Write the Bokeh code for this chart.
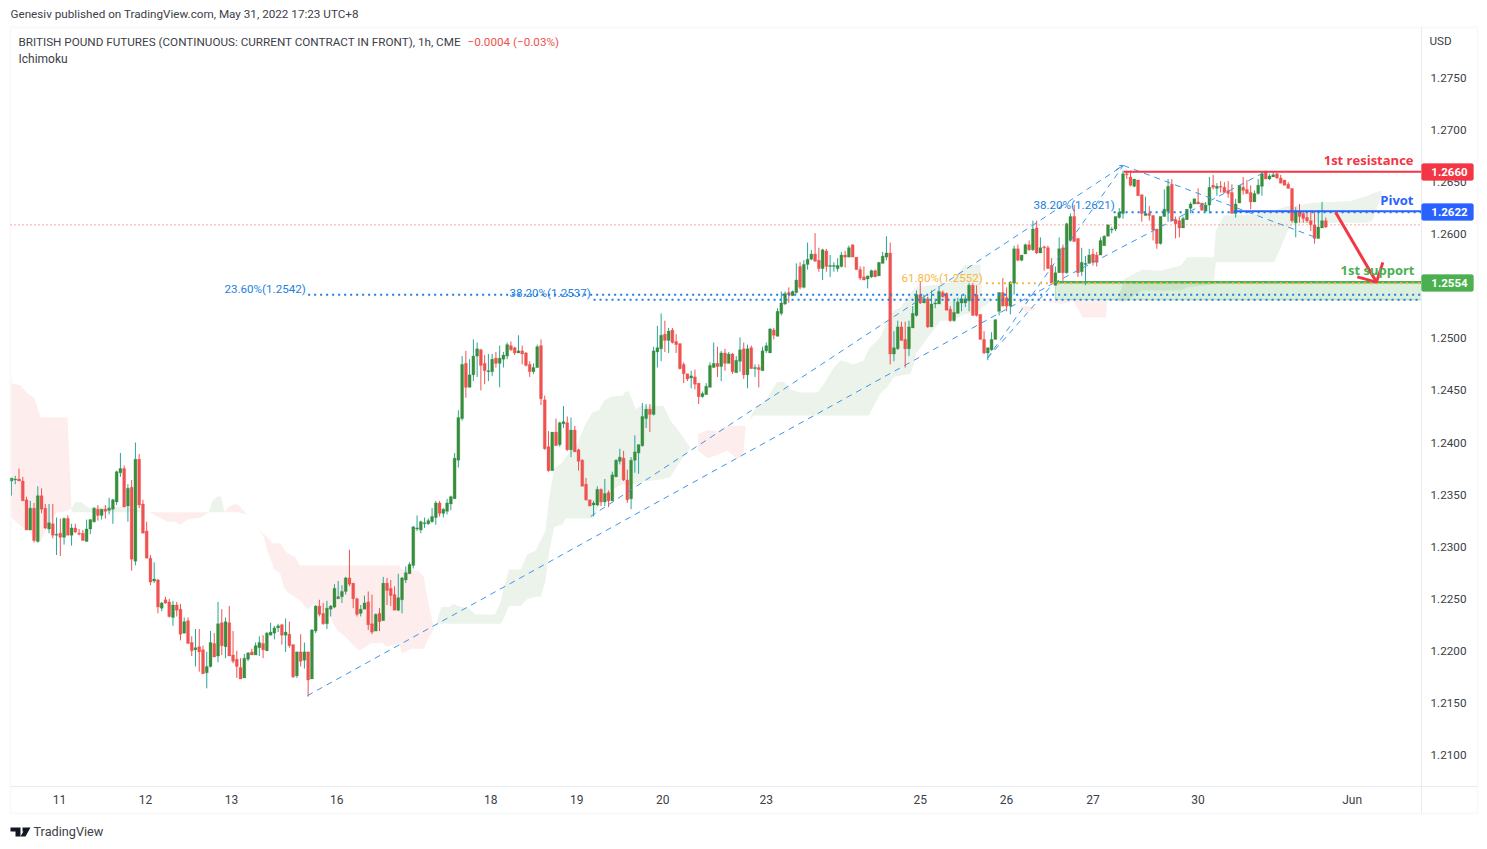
from bokeh.plotting import figure
from bokeh.models import Label, BoxAnnotation, PolyAnnotation, FixedTicker, Range1d
from bokeh.embed import file_html
from bokeh.resources import INLINE

# Prices are written in ten-thousandths of a dollar (12363 = 1.2363)
OPEN = [
12363,12364,12365,12363,12345,12316,12337,12305,12349,12337,
12317,12322,12311,12313,12309,12327,12311,12318,12313,12313,
12305,12317,12324,12336,12330,12336,12335,12336,12343,12371,
12375,12339,12357,12286,12384,12341,12315,12289,12267,12268,
12241,12249,12247,12232,12244,12240,12217,12229,12208,12201,
12204,12201,12179,12185,12207,12195,12227,12204,12227,12196,
12192,12184,12174,12192,12199,12196,12203,12207,12200,12215,
12217,12222,12225,12215,12216,12206,12176,12199,12191,12199,
12173,12219,12243,12236,12226,12240,12242,12250,12252,12257,
12270,12265,12250,12236,12240,12247,12226,12219,12236,12229,
12265,12260,12254,12239,12249,12268,12274,12282,12317,12316,
12322,12322,12324,12328,12342,12332,12334,12341,12346,12383,
12423,12476,12453,12465,12483,12489,12476,12468,12468,12481,
12476,12480,12483,12493,12491,12486,12488,12486,12475,12468,
12472,12493,12441,12396,12373,12410,12398,12418,12419,12393,
12412,12393,12383,12360,12345,12340,12340,12355,12343,12352,
12344,12367,12382,12385,12364,12346,12383,12390,12397,12423,
12432,12427,12487,12490,12504,12498,12508,12497,12495,12475,
12466,12462,12463,12457,12444,12446,12453,12472,12476,12473,
12486,12476,12485,12467,12478,12490,12465,12491,12471,12472,
12469,12488,12486,12508,12502,12524,12533,12544,12541,12544,
12569,12549,12571,12576,12581,12575,12567,12584,12569,12569,
12567,12569,12580,12578,12590,12578,12566,12559,12557,12559,
12565,12560,12572,12578,12582,12485,12490,12511,12499,12490,
12510,12522,12542,12534,12538,12511,12533,12533,12544,12543,
12528,12517,12524,12534,12534,12536,12551,12542,12523,12499,
12486,12489,12499,12526,12544,12539,12531,12553,12586,12575,
12581,12590,12585,12606,12582,12588,12587,12570,12551,12563,
12587,12563,12594,12617,12596,12564,12571,12572,12581,12580,
12580,12589,12598,12604,12605,12616,12620,12658,12655,12646,
12652,12638,12618,12620,12618,12605,12591,12617,12622,12648,
12614,12613,12606,12614,12625,12629,12631,12630,12622,12628,
12647,12644,12646,12645,12642,12640,12620,12630,12645,12643,
12640,12631,12639,12646,12660,12653,12655,12658,12654,12652,
12648,12644,12611,12622,12620,12616,12613,12609,12596,12606,12613]
HIGH = [
12366,12368,12375,12367,12348,12344,12342,12358,12356,12341,
12341,12341,12328,12327,12328,12330,12322,12322,12317,12316,
12326,12326,12338,12340,12336,12340,12347,12346,12373,12390,
12378,12360,12364,12400,12389,12345,12324,12292,12285,12269,
12247,12252,12250,12248,12247,12245,12232,12232,12214,12221,
12221,12205,12199,12219,12217,12247,12240,12232,12243,12219,
12200,12193,12197,12199,12202,12208,12214,12215,12218,12227,
12224,12226,12226,12231,12228,12206,12199,12216,12208,12199,
12221,12244,12249,12246,12248,12244,12264,12267,12263,12271,
12297,12265,12251,12244,12253,12257,12254,12236,12241,12271,
12270,12268,12262,12274,12271,12281,12285,12320,12330,12325,
12328,12327,12337,12344,12344,12337,12346,12349,12390,12431,
12483,12488,12480,12499,12496,12490,12484,12485,12485,12487,
12493,12487,12496,12497,12492,12503,12493,12487,12478,12476,
12494,12499,12445,12411,12410,12423,12420,12435,12425,12424,
12416,12394,12384,12366,12345,12344,12358,12356,12365,12354,
12372,12384,12394,12392,12374,12386,12407,12398,12438,12437,
12437,12492,12512,12524,12517,12510,12510,12504,12495,12477,
12466,12469,12470,12457,12449,12457,12477,12496,12492,12488,
12490,12487,12486,12483,12501,12496,12494,12493,12475,12475,
12492,12496,12510,12510,12529,12545,12545,12549,12546,12572,
12573,12575,12592,12585,12601,12587,12586,12586,12580,12573,
12577,12583,12584,12589,12590,12578,12569,12569,12560,12566,
12566,12573,12583,12598,12592,12507,12517,12516,12516,12517,
12531,12546,12555,12542,12540,12546,12538,12550,12546,12544,
12531,12537,12539,12542,12542,12553,12553,12551,12523,12507,
12491,12506,12518,12544,12558,12549,12555,12589,12590,12580,
12591,12594,12613,12613,12597,12589,12589,12577,12569,12597,
12590,12611,12620,12628,12596,12587,12579,12586,12586,12583,
12597,12599,12609,12607,12617,12625,12661,12661,12661,12653,
12652,12638,12636,12627,12618,12605,12617,12643,12653,12653,
12617,12617,12617,12624,12631,12634,12644,12630,12631,12655,
12657,12649,12651,12650,12651,12648,12634,12647,12655,12652,
12647,12642,12653,12660,12661,12658,12660,12659,12657,12652,
12650,12644,12626,12629,12622,12621,12622,12621,12623,12631,12616]
LOW = [
12349,12360,12363,12344,12316,12316,12304,12304,12332,12317,
12313,12308,12292,12291,12302,12311,12301,12313,12311,12306,
12305,12312,12323,12325,12326,12327,12331,12322,12340,12367,
12338,12324,12277,12282,12337,12313,12289,12263,12265,12236,
12238,12245,12232,12224,12233,12210,12217,12207,12195,12185,
12180,12178,12164,12184,12194,12189,12196,12193,12195,12188,
12174,12173,12174,12190,12196,12196,12195,12193,12200,12215,
12211,12218,12206,12199,12203,12174,12174,12185,12183,12156,
12173,12217,12233,12225,12221,12233,12241,12250,12246,12254,
12262,12241,12233,12233,12240,12220,12216,12219,12219,12229,
12244,12243,12239,12238,12236,12265,12274,12279,12315,12313,
12318,12321,12323,12321,12329,12328,12331,12335,12346,12376,
12421,12443,12453,12459,12463,12450,12456,12459,12464,12472,
12453,12472,12480,12488,12484,12486,12475,12473,12463,12466,
12472,12436,12393,12372,12373,12397,12396,12414,12392,12386,
12391,12373,12358,12344,12339,12329,12339,12339,12339,12338,
12344,12367,12379,12363,12342,12336,12371,12370,12396,12414,
12410,12426,12472,12478,12487,12486,12495,12486,12470,12457,
12459,12452,12451,12437,12443,12446,12453,12472,12463,12459,
12469,12476,12466,12467,12468,12461,12452,12471,12463,12453,
12469,12486,12486,12499,12502,12522,12532,12534,12541,12543,
12547,12548,12566,12575,12574,12564,12556,12564,12559,12564,
12564,12568,12568,12578,12578,12566,12556,12556,12548,12558,
12559,12560,12572,12575,12475,12478,12489,12498,12472,12483,
12510,12521,12533,12534,12510,12511,12529,12533,12539,12527,
12516,12516,12524,12526,12530,12526,12522,12521,12499,12485,
12479,12488,12499,12522,12531,12526,12523,12542,12574,12574,
12581,12584,12584,12581,12582,12565,12567,12553,12551,12563,
12555,12562,12593,12593,12559,12560,12551,12572,12570,12569,
12580,12589,12598,12601,12603,12615,12615,12653,12646,12645,
12637,12612,12618,12613,12594,12586,12590,12617,12612,12613,
12596,12597,12606,12614,12620,12629,12629,12623,12622,12620,
12643,12637,12640,12640,12635,12620,12616,12630,12638,12639,
12624,12631,12638,12637,12653,12652,12655,12653,12649,12647,
12644,12611,12597,12611,12611,12611,12603,12591,12596,12606,12606]
CLOSE = [
12366,12365,12363,12344,12316,12337,12306,12349,12336,12318,
12323,12311,12312,12309,12327,12311,12318,12314,12312,12306,
12317,12326,12337,12330,12336,12334,12337,12345,12372,12375,
12338,12356,12288,12384,12340,12313,12289,12266,12269,12242,
12246,12246,12233,12244,12239,12216,12228,12207,12200,12203,
12199,12178,12185,12208,12194,12226,12205,12228,12195,12190,
12185,12173,12193,12198,12196,12205,12208,12201,12217,12218,
12222,12224,12215,12218,12205,12175,12199,12190,12199,12172,
12220,12243,12235,12226,12241,12243,12260,12252,12257,12270,
12264,12250,12235,12240,12246,12225,12218,12235,12228,12265,
12258,12253,12239,12251,12270,12275,12283,12319,12318,12324,
12323,12325,12329,12342,12332,12336,12342,12348,12385,12424,
12475,12453,12465,12483,12490,12474,12469,12469,12480,12476,
12481,12484,12494,12489,12486,12488,12485,12474,12468,12472,
12492,12442,12394,12373,12410,12397,12419,12420,12393,12412,
12391,12382,12358,12345,12339,12342,12355,12343,12351,12344,
12369,12383,12386,12364,12345,12383,12391,12398,12425,12432,
12427,12488,12491,12503,12498,12507,12496,12494,12471,12466,
12461,12464,12456,12444,12447,12454,12474,12476,12473,12486,
12476,12485,12468,12479,12489,12465,12490,12471,12472,12470,
12488,12493,12509,12503,12526,12534,12543,12542,12545,12556,
12549,12571,12576,12581,12574,12567,12585,12569,12570,12570,
12570,12580,12578,12587,12578,12566,12558,12556,12560,12565,
12559,12573,12579,12582,12485,12491,12511,12498,12490,12511,
12524,12542,12534,12538,12511,12533,12534,12545,12540,12527,
12517,12525,12535,12538,12538,12551,12522,12522,12499,12486,
12491,12499,12518,12544,12531,12531,12554,12586,12575,12580,
12590,12585,12605,12582,12587,12587,12567,12553,12563,12586,
12563,12610,12617,12593,12563,12573,12572,12580,12573,12573,
12594,12598,12609,12605,12617,12621,12658,12657,12647,12653,
12637,12620,12620,12618,12604,12591,12617,12624,12646,12613,
12610,12606,12615,12624,12629,12634,12629,12623,12628,12645,
12645,12646,12645,12640,12639,12620,12629,12647,12642,12639,
12631,12639,12647,12658,12653,12656,12657,12654,12649,12647,
12644,12613,12622,12617,12615,12613,12609,12596,12607,12613,12607]

# Ichimoku cloud patches: bar number, upper span, lower span (same units)
RED_A_X = [0, 2.4, 4, 6, 7.8, 9, 12, 14.9, 16]
RED_A_TOP = [12457,12455,12448,12443,12424,12424,12424,12424,12337]
RED_A_BOT = [12328,12320,12316,12311,12305,12315,12333,12334,12337]
GREEN_A_X = [16, 17, 18.5, 20.7, 25, 30, 36.5]
GREEN_A_TOP = [12337,12343,12343,12337,12339,12338,12333]
GREEN_A_BOT = [12333]*7
RED_B_X = [36.6, 37.9, 41.5, 43.7, 45, 46.8, 50.3, 52.6]
RED_B_TOP = [12333]*8
RED_B_BOT = [12333,12331,12324,12324,12321,12326,12328,12333]
GREEN_B_X = [52.6, 53.5, 54.8, 55.8, 56.8]
GREEN_B_TOP = [12333,12344,12348,12348,12333]
GREEN_B_BOT = [12333]*5
RED_C_X = [56.8, 57.7, 59.6, 60.5, 62.7]
RED_C_TOP = [12333,12338,12341,12340,12331]
RED_C_BOT = [12333,12333,12333,12333,12331]
RED_D_X = [65.9,67.2,68.1,69.4,69.9,71.6,72.5,73.4,75.6,76.7,78.7,81,84.5,86.8,88.5,91.2,92.5,95.6,98.7,100,103.2,104,106.3,108.5,109.8,110.7,112.5]
RED_D_TOP = [12317,12312,12309,12304,12303,12303,12298,12294,12290,12282,12282,12282,12282,12282,12282,12282,12282,12282,12282,12282,12282,12278,12278,12277,12271,12251,12222]
RED_D_BOT = [12317,12309,12296,12284,12278,12274,12261,12257,12251,12249,12240,12245,12235,12219,12215,12205,12200,12207,12208,12204,12207,12197,12202,12202,12202,12210,12221]
GREEN_C_X = [112.95,113.8,114.5,116.5,117.8,119.6,121.8,123.6,128.7,130.3,131.1,132.5,135.6,137.4,139.6,140.9,142.2,143.1,144.5,146.7,147.6,150.7,152.9,154.7,156.4,157.8,159.6,162.7,163.5,164.4,166.2,167.5,173.7,175.5,177.3,180.8,182.6]
GREEN_C_TOP = [12221,12235,12242,12242,12245,12242,12241,12235,12235,12247,12261,12278,12278,12293,12296,12306,12315,12344,12375,12381,12386,12399,12418,12429,12431,12440,12444,12445,12449,12449,12432,12435,12435,12421,12413,12395,12394]
GREEN_C_BOT = [12221,12226,12226,12226,12226,12226,12226,12226,12226,12226,12231,12243,12243,12250,12252,12252,12267,12293,12319,12321,12327,12327,12327,12327,12338,12344,12354,12360,12360,12360,12360,12362,12365,12367,12378,12395,12394]
RED_E_X = [182.8,185.3,188,190.6,193.3,194.9,195.5]
RED_E_TOP = [12408,12412,12411,12416,12416,12416,12416]
RED_E_BOT = [12392,12385,12388,12392,12384,12389,12416]
GREEN_D_X = [196.4,197.7,201.3,203.9,205.7,207.5,210.1,214.6,216.3,219,220.8,224.3,227,228.3,231.4,233.2,235,236.8,239.4,240.3,240.8,247.4,250.1,253.7,258,258.5,262.1]
GREEN_D_TOP = [12421,12431,12443,12458,12458,12451,12448,12448,12456,12472,12479,12475,12479,12490,12501,12517,12527,12530,12543,12547,12549,12552,12554,12570,12571,12539,12538]
GREEN_D_BOT = [12421,12426,12426,12426,12426,12426,12426,12426,12426,12426,12426,12426,12426,12426,12447,12453,12463,12464,12466,12475,12485,12517,12517,12523,12526,12530,12538]
RED_F_X = [268.3,270.1,272.7]
RED_F_TOP = [12530,12531,12530]
RED_F_BOT = [12530,12525,12528]
RED_G_X = [275,279.4,282.9,285.2,291.4,291.8]
RED_G_TOP = [12536]*6
RED_G_BOT = [12536,12533,12536,12520,12520,12536]
GREEN_E_X = [291.8,294.5,296.3,301.1,306,311.4,313.1,320.2,320.7,322.9,330,336.2,338,339.8,341.5,346,356.6,361,362.4,363.3,364.6,365]
GREEN_E_TOP = [12536,12536,12557,12566,12565,12570,12578,12578,12603,12618,12619,12622,12625,12627,12627,12630,12632,12637,12639,12640,12642,12638]
GREEN_E_BOT = [12536,12536,12535,12546,12546,12546,12549,12552,12573,12573,12573,12573,12587,12603,12610,12611,12611,12611,12613,12621,12635,12638]

# Drawn pattern (bar number, price)
PATTERN_LINES = [
    ((78.8, 277.5), (12157, 12553)),
    ((154.2, 296.1), (12329, 12666)),
    ((259.9, 296.1), (12481, 12666)),
    ((259.9, 277.5), (12481, 12553)),
    ((277.5, 333.4), (12553, 12659)),
    ((296.1, 348.0), (12666, 12596)),
]
ARROW_X = [352.6, 363.5]
ARROW_Y = [12621, 12554]
ARROW_HEAD_X = [358.4, 363.5, 365.2]
ARROW_HEAD_Y = [12559, 12554, 12573]

LEVEL_RESIST = 12660
LEVEL_PIVOT = 12622
LEVEL_SUPPORT = 12554
ZONE_BOTTOM = 12537
LAST_PRICE = 12609
FIB_236 = 12542
FIB_382_LOW = 12537
FIB_618 = 12553
FIB_382_HIGH = 12621

DAY_TICKS = [12.8, 35.7, 58.6, 86.6, 127.6, 150.5, 173.4, 201, 242, 265, 288, 316, 357]
DAY_LABELS = ["11", "12", "13", "16", "18", "19", "20", "23", "25", "26", "27", "30", "Jun"]
PRICE_TICKS = [1.2100,1.2150,1.2200,1.2250,1.2300,1.2350,1.2400,1.2450,1.2500,1.2600,1.2650,1.2700,1.2750]

def P(v):
    return v / 10000

def PL(vals):
    return [v / 10000 for v in vals]

# The frame fills the whole canvas, so that the axes, price tags and page texts are not clipped.
W, H = 1480, 845
X_START, X_END = -0.266, 375.5
Y_PANEL_BOTTOM = 1.20698
p = figure(width=W, height=H, output_backend="svg", toolbar_location=None,
           x_range=Range1d(-2.929, 391.2), y_range=Range1d(1.20131, 1.28244),
           y_axis_location="right", min_border=0, background_fill_color="white",
           border_fill_color="white")
p.grid.visible = False
p.outline_line_color = None

TEXT = "#3c4049"
FONT = "Roboto"
ax = p.yaxis[0]
ax.fixed_location = X_END
ax.ticker = FixedTicker(ticks=PRICE_TICKS)
ax.major_label_overrides = {t: f"{t:.4f}" for t in PRICE_TICKS}
ax.axis_line_color = None
ax.major_tick_line_color = None
ax.minor_tick_line_color = None
ax.major_label_standoff = 3
ax.major_label_text_font = FONT
ax.major_label_text_font_size = "11.7px"
ax.major_label_text_color = TEXT
bx = p.xaxis[0]
bx.fixed_location = Y_PANEL_BOTTOM
bx.ticker = FixedTicker(ticks=DAY_TICKS)
bx.major_label_overrides = dict(zip(DAY_TICKS, DAY_LABELS))
bx.axis_line_color = None
bx.major_tick_line_color = None
bx.minor_tick_line_color = None
bx.major_label_standoff = 1
bx.major_label_text_font = FONT
bx.major_label_text_font_size = "12px"
bx.major_label_text_color = TEXT

RED_FILL = "#ef5350"
GREEN_FILL = "#388e3c"
for color, x, top, bot in [
    (RED_FILL, RED_A_X, RED_A_TOP, RED_A_BOT), (GREEN_FILL, GREEN_A_X, GREEN_A_TOP, GREEN_A_BOT),
    (RED_FILL, RED_B_X, RED_B_TOP, RED_B_BOT), (GREEN_FILL, GREEN_B_X, GREEN_B_TOP, GREEN_B_BOT),
    (RED_FILL, RED_C_X, RED_C_TOP, RED_C_BOT), (RED_FILL, RED_D_X, RED_D_TOP, RED_D_BOT),
    (GREEN_FILL, GREEN_C_X, GREEN_C_TOP, GREEN_C_BOT), (RED_FILL, RED_E_X, RED_E_TOP, RED_E_BOT),
    (GREEN_FILL, GREEN_D_X, GREEN_D_TOP, GREEN_D_BOT), (RED_FILL, RED_F_X, RED_F_TOP, RED_F_BOT),
    (RED_FILL, RED_G_X, RED_G_TOP, RED_G_BOT), (GREEN_FILL, GREEN_E_X, GREEN_E_TOP, GREEN_E_BOT),
]:
    p.varea(x=x, y1=PL(top), y2=PL(bot), fill_color=color, fill_alpha=0.1)

# Support zone
ZONE_X = 278
p.quad(left=[ZONE_X], right=[X_END], top=[P(LEVEL_SUPPORT)], bottom=[P(ZONE_BOTTOM)],
       fill_color="#4caf50", fill_alpha=0.2, line_color="#4caf50", line_alpha=0.35, line_width=1)

# Candles
idx = list(range(len(OPEN)))
up = [c >= o for o, c in zip(OPEN, CLOSE)]
wick_col = ["#26a69a" if u else "#ef5350" for u in up]
body_col = ["#388e3c" if u else "#ef5350" for u in up]
p.segment(x0=idx, x1=idx, y0=PL(LOW), y1=PL(HIGH), line_color=wick_col, line_width=1)
p.vbar(x=idx, width=0.78, top=PL([max(o, c) for o, c in zip(OPEN, CLOSE)]),
       bottom=PL([min(o, c) for o, c in zip(OPEN, CLOSE)]), fill_color=body_col, line_color=body_col, line_width=0.3)

# Price line and fib levels
p.line([X_START, X_END], [P(LAST_PRICE)] * 2, line_color="#ef5350", line_width=1, line_dash=[1, 3])
BLUE = "#1e7fe0"
for start, lvl in [(79, FIB_236), (155, FIB_382_LOW), (293.5, FIB_382_HIGH)]:
    p.line([start, X_END], [P(lvl)] * 2, line_color=BLUE, line_width=2, line_dash=[2, 4])
for xs, ys in PATTERN_LINES:
    p.line(list(xs), PL(ys), line_color="#3d96ea", line_width=1, line_dash=[6, 5])
p.line([295.0, 296.1, 294.2], PL([12666, 12666, 12662]), line_color="#3d96ea", line_width=1)

# Levels
p.line([296.2, X_END], [P(LEVEL_RESIST)] * 2, line_color="#f23645", line_width=2)
p.line([325.5, X_END], [P(LEVEL_PIVOT)] * 2, line_color="#2962ff", line_width=2)
p.line([ZONE_X, X_END], [P(LEVEL_SUPPORT)] * 2, line_color="#4caf50", line_width=2.5)
p.line([259.5, X_END], [P(FIB_618)] * 2 , line_color="#f9b73e", line_width=2, line_dash=[2, 4])

# Arrow
p.line(ARROW_X, PL(ARROW_Y), line_color="#f23645", line_width=3)
p.line(ARROW_HEAD_X, PL(ARROW_HEAD_Y), line_color="#f23645", line_width=3)

# Chart panel frame and separators
BORDER = "#e9ebf2"
def box(l, r, t, b, **kw):
    p.add_layout(BoxAnnotation(left=l, right=r, top=t, bottom=b, left_units="canvas", right_units="canvas",
                               top_units="canvas", bottom_units="canvas", **kw))
box(10, 1477, 27, 813, fill_alpha=0, line_color=BORDER, line_width=2)
box(1420.5, 1421.5, 27, 813, fill_color=BORDER, fill_alpha=1, line_alpha=0)
box(10, 1477, 785.5, 786.5, fill_color=BORDER, fill_alpha=1, line_alpha=0)

def txt(x, y, s, color=TEXT, size="12px", font=FONT, style="normal", align="left"):
    p.add_layout(Label(x=x, y=y, x_units="canvas", y_units="canvas", text=s, text_color=color,
                       text_font=font, text_font_size=size, text_font_style=style, text_align=align,
                       text_baseline="middle"))

txt(10, 13, "Genesiv published on TradingView.com, May 31, 2022 17:23 UTC+8", size="11.7px")
txt(18, 41, "BRITISH POUND FUTURES (CONTINUOUS: CURRENT CONTRACT IN FRONT), 1h, CME", size="11.7px")
txt(467, 41, "\u22120.0004 (\u22120.03%)", color="#ef5350", size="11.7px")
txt(18, 58, "Ichimoku", size="12px")
txt(1429, 40, "USD", size="11.7px")
txt(33, 831, "TradingView", size="12.7px")

txt(224, 288, "23.60%(1.2542)", color=BLUE, size="11.6px")
txt(509, 292, "38.20%(1.2537)", color=BLUE, size="11.6px")
txt(1033, 204, "38.20%(1.2621)", color=BLUE, size="11.6px")
txt(901, 277, "61.80%(1.2552)", color="#f9b73e", size="11.6px")

BOLD_FONT = "Open Sans"
txt(1413, 159, "1st resistance", color="#f23645", size="13px", font=BOLD_FONT, style="bold", align="right")
txt(1413, 199, "Pivot", color="#2962ff", size="13px", font=BOLD_FONT, style="bold", align="right")
txt(1414, 269, "1st support", color="#4caf50", size="13px", font=BOLD_FONT, style="bold", align="right")

for y, s, c in [(171.5, "1.2660", "#f23645"), (211.5, "1.2622", "#2962ff"), (282.5, "1.2554", "#4caf50")]:
    box(1421, 1473, y - 8.5, y + 8.5, fill_color=c, fill_alpha=1, line_color=c, border_radius=2)
    txt(1449, y, s, color="white", size="11.5px", style="bold", align="center")

# TradingView logo
for xs, ys in [([10, 20, 20, 15, 15, 10], [827, 827, 836, 836, 831, 831]),
               ([22, 25, 25, 22], [827, 827, 831, 831]),
               ([25, 30, 25, 20], [827, 827, 836, 836])]:
    p.add_layout(PolyAnnotation(xs=xs, ys=ys, xs_units="canvas", ys_units="canvas",
                                fill_color="#131722", fill_alpha=1, line_color="#131722", line_width=0))

open("out.html", "w").write(file_html(p, INLINE))
